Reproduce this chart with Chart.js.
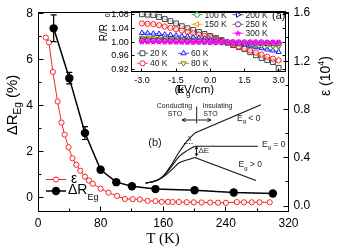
<!DOCTYPE html>
<html>
<head>
<meta charset="utf-8">
<script src="https://cdn.jsdelivr.net/npm/chart.js@4/dist/chart.umd.js"></script>
<style>
  html, body { margin: 0; padding: 0; background: #fff; }
  #wrap { position: relative; width: 338px; height: 251px; }
  #main { position: absolute; left: 0; top: 0; }
  #inset { position: absolute; left: 90px; top: 0; }
</style>
</head>
<body>
<div id="wrap">
  <canvas id="main" width="338" height="251"></canvas>
  <canvas id="inset" width="200" height="100"></canvas>
</div>
<script>
// main panel: resistance change (left axis) and permittivity (right axis) vs T
const tempsR = [20, 40, 60, 80, 100, 120, 150, 200, 250, 300];
const deltaR = [7.35, 5.19, 2.81, 1.22, 0.68, 0.50, 0.38, 0.33, 0.23, 0.19];
const deltaRErr = [0.58, 0.25, 0.28, 0.1, 0.08, 0.08, 0.1, 0.08, 0.06, 0.06];

const tempsEps = [10, 14, 19, 25, 30, 34, 39, 44, 49, 54, 60, 65, 70, 80, 90, 101, 111, 121, 130, 140,
  150, 158, 166, 172, 180, 190, 199, 209, 220, 230, 240, 254, 263, 273, 283, 296];
const eps = [1.397, 1.356, 1.112, 0.867, 0.692, 0.592, 0.488, 0.396, 0.342, 0.293, 0.244, 0.212, 0.185, 0.144,
  0.111, 0.084, 0.059, 0.057, 0.055, 0.043, 0.041, 0.035, 0.035, 0.033, 0.033, 0.032, 0.031, 0.030, 0.029,
  0.028, 0.027, 0.033, 0.031, 0.031, 0.031, 0.031];

const xTicks = [0, 80, 160, 240, 320];
const yTicks = [0, 2, 4, 6, 8];
const y1Ticks = [0, 0.4, 0.8, 1.2, 1.6];

// schematic (b), drawn in the main panel's own units
const curveNegT = [137.6, 145.3, 153.0, 160.6, 168.3, 181.1, 191.4, 200.3, 284.8];
const curveNegV = [0.64, 0.69, 0.77, 0.97, 1.32, 2.03, 2.50, 2.81, 4.04];
const curveZeroT = [137.6, 145.3, 153.0, 160.6, 168.3, 181.1, 191.4, 200.3, 281.0];
const curveZeroV = [0.64, 0.69, 0.77, 0.95, 1.26, 1.82, 2.07, 2.24, 2.24];
const curvePosT = [137.6, 145.3, 153.0, 160.6, 168.3, 181.1, 191.4, 200.3, 278.4];
const curvePosV = [0.64, 0.69, 0.77, 0.92, 1.14, 1.53, 1.65, 1.75, 0.75];

// inset (a): R/R0 vs field
const fieldE = [-3, -2.75, -2.5, -2.25, -2, -1.75, -1.5, -1.25, -1, -0.75, -0.5, -0.25, 0,
  0.25, 0.5, 0.75, 1, 1.25, 1.5, 1.75, 2, 2.25, 2.5, 2.75, 3];
const r20 = [1.082, 1.081, 1.080, 1.074, 1.068, 1.062, 1.055, 1.047, 1.041, 1.036, 1.030, 1.024, 1.018,
  1.012, 1.006, 0.998, 0.991, 0.985, 0.979, 0.970, 0.961, 0.953, 0.947, 0.941, 0.924];
const r40 = [1.055, 1.054, 1.053, 1.050, 1.046, 1.042, 1.038, 1.034, 1.030, 1.026, 1.022, 1.018, 1.014,
  1.009, 1.004, 0.999, 0.993, 0.987, 0.981, 0.975, 0.969, 0.963, 0.957, 0.951, 0.946];
const r60 = [1.027, 1.026, 1.025, 1.024, 1.022, 1.021, 1.019, 1.017, 1.016, 1.014, 1.012, 1.010, 1.008,
  1.006, 1.003, 1.000, 0.998, 0.995, 0.992, 0.989, 0.985, 0.982, 0.978, 0.975, 0.971];
const r80 = [1.012, 1.011, 1.011, 1.010, 1.009, 1.009, 1.008, 1.007, 1.006, 1.005, 1.004, 1.003, 1.002,
  1.001, 1.000, 0.999, 0.998, 0.997, 0.995, 0.994, 0.992, 0.991, 0.989, 0.988, 0.986];
const r100 = [1.010, 1.010, 1.009, 1.009, 1.008, 1.007, 1.007, 1.006, 1.005, 1.004, 1.003, 1.002, 1.001,
  1.000, 0.999, 0.998, 0.997, 0.996, 0.995, 0.994, 0.993, 0.992, 0.991, 0.990, 0.990];
const r150 = [1.008, 1.008, 1.007, 1.007, 1.006, 1.006, 1.005, 1.005, 1.004, 1.003, 1.003, 1.002, 1.001,
  1.001, 1.000, 0.999, 0.999, 0.998, 0.997, 0.997, 0.996, 0.996, 0.995, 0.995, 0.994];
const r200 = [1.006, 1.006, 1.005, 1.005, 1.005, 1.004, 1.004, 1.003, 1.003, 1.002, 1.002, 1.001, 1.001,
  1.000, 1.000, 0.999, 0.999, 0.998, 0.998, 0.997, 0.997, 0.997, 0.996, 0.996, 0.996];
const r250 = [1.003, 1.003, 1.003, 1.003, 1.002, 1.002, 1.002, 1.002, 1.001, 1.001, 1.001, 1.001, 1.000,
  1.000, 1.000, 1.000, 0.999, 0.999, 0.999, 0.999, 0.999, 0.999, 0.998, 0.998, 0.998];
const r300 = [1.001, 1.001, 1.001, 1.001, 1.001, 1.001, 1.000, 1.000, 1.000, 1.000, 1.000, 1.000, 1.000,
  1.000, 1.000, 1.000, 1.000, 0.999, 0.999, 0.999, 0.999, 0.999, 0.999, 0.999, 0.999];
const insetLabels = ["20 K", "40 K", "60 K", "80 K", "100 K", "150 K", "200 K", "250 K", "300 K"];
const insetXTicks = [-3, -1.5, 0, 1.5, 3];
const insetYTicks = [0.92, 0.96, 1.00, 1.04, 1.08];

const SANS = "'Liberation Sans', Arial, sans-serif";
const SERIF = "'Liberation Serif', 'Times New Roman', serif";
const RED = "#f02828";

function pts(xs, ys) {
  return xs.map((x, i) => ({ x: x, y: ys[i] }));
}

// filled star marker for the 300 K series
function makeStar(r, color) {
  const c = document.createElement("canvas");
  c.width = c.height = Math.ceil(r * 2 + 2);
  const g = c.getContext("2d");
  g.beginPath();
  for (let i = 0; i < 10; i++) {
    const a = -Math.PI / 2 + i * Math.PI / 5;
    const rr = i % 2 ? r * 0.45 : r;
    g.lineTo(c.width / 2 + rr * Math.cos(a), c.height / 2 + rr * Math.sin(a));
  }
  g.closePath();
  g.fillStyle = color;
  g.fill();
  return c;
}

// draws text pieces left to right, with optional sub/superscripts
function richText(ctx, parts, x, y, align) {
  let total = 0;
  parts.forEach((p) => { ctx.font = p.font; total += ctx.measureText(p.t).width; });
  let cx = align === "center" ? x - total / 2 : x;
  parts.forEach((p) => {
    ctx.font = p.font;
    ctx.fillText(p.t, cx, y + (p.dy || 0));
    cx += ctx.measureText(p.t).width;
  });
}

function halfPx(v) { return Math.floor(v) + 0.5; }

function drawArrow(ctx, x1, y1, x2, y2, head) {
  const a = Math.atan2(y2 - y1, x2 - x1);
  ctx.beginPath();
  ctx.moveTo(x1, y1);
  ctx.lineTo(x2, y2);
  ctx.stroke();
  ctx.beginPath();
  ctx.moveTo(x2, y2);
  ctx.lineTo(x2 - head * Math.cos(a - 0.45), y2 - head * Math.sin(a - 0.45));
  ctx.moveTo(x2, y2);
  ctx.lineTo(x2 - head * Math.cos(a + 0.45), y2 - head * Math.sin(a + 0.45));
  ctx.stroke();
}

function inwardTicks(ctx, scale, values, side, area, len) {
  values.forEach((v) => {
    const p = halfPx(scale.getPixelForValue(v));
    ctx.beginPath();
    if (side === "bottom") { ctx.moveTo(p, area.bottom); ctx.lineTo(p, area.bottom - len); }
    if (side === "left") { ctx.moveTo(area.left, p); ctx.lineTo(area.left + len, p); }
    if (side === "right") { ctx.moveTo(area.right, p); ctx.lineTo(area.right - len, p); }
    ctx.stroke();
  });
}

function mids(arr) {
  const out = [];
  for (let i = 0; i < arr.length - 1; i++) out.push((arr[i] + arr[i + 1]) / 2);
  return out;
}

const mainExtras = {
  id: "mainExtras",
  afterDatasetsDraw(chart) {
    const { ctx, chartArea: a, scales } = chart;
    const x = scales.x, y = scales.y, y1 = scales.y1;
    ctx.save();
    // error bars on the resistance points
    ctx.strokeStyle = "#000";
    ctx.lineWidth = 1.2;
    tempsR.forEach((t, i) => {
      const px = x.getPixelForValue(t);
      const top = y.getPixelForValue(deltaR[i] + deltaRErr[i]);
      const bot = y.getPixelForValue(deltaR[i] - deltaRErr[i]);
      ctx.beginPath();
      ctx.moveTo(px, top); ctx.lineTo(px, bot);
      ctx.moveTo(px - 3, top); ctx.lineTo(px + 3, top);
      ctx.moveTo(px - 3, bot); ctx.lineTo(px + 3, bot);
      ctx.stroke();
    });

    // frame and inward ticks
    ctx.lineWidth = 1;
    const L = halfPx(a.left), R = halfPx(a.right), T = halfPx(a.top), B = halfPx(a.bottom);
    ctx.strokeRect(L, T, R - L, B - T);
    const box = { left: L, right: R, top: T, bottom: B };
    inwardTicks(ctx, x, xTicks, "bottom", box, 5);
    inwardTicks(ctx, x, mids(xTicks), "bottom", box, 3);
    inwardTicks(ctx, y, yTicks, "left", box, 5);
    inwardTicks(ctx, y, mids(yTicks), "left", box, 3);
    inwardTicks(ctx, y1, y1Ticks, "right", box, 5);
    inwardTicks(ctx, y1, mids(y1Ticks), "right", box, 3);

    // schematic (b) decorations
    ctx.lineWidth = 0.9;
    ctx.beginPath();
    ctx.moveTo(196.7, 106.5); ctx.lineTo(196.7, 123.5);
    ctx.stroke();
    drawArrow(ctx, 196, 120, 182, 120, 4);
    drawArrow(ctx, 197.5, 120, 211, 120, 4);
    drawArrow(ctx, 196.5, 152, 196.5, 146.5, 3);
    drawArrow(ctx, 196.5, 151, 196.5, 156, 3);
    ctx.setLineDash([1, 1.5]);
    ctx.beginPath();
    ctx.moveTo(184, 143.5); ctx.lineTo(194, 143.5);
    ctx.stroke();
    ctx.setLineDash([]);

    ctx.fillStyle = "#222";
    ctx.textBaseline = "middle";
    ctx.textAlign = "center";
    ctx.font = "7px " + SANS;
    ctx.fillText("Conducting", 174.5, 106);
    ctx.fillText("STO", 175, 114);
    ctx.fillText("Insulating", 217.5, 106);
    ctx.fillText("STO", 210.5, 114);
    ctx.fillText("λ", 189.5, 139);
    ctx.font = "11px " + SANS;
    ctx.fillText("(b)", 155, 142.7);
    ctx.textAlign = "left";
    ctx.font = "8px " + SANS;
    ctx.fillText("ΔE", 198.5, 150.7);
    const f8 = "8.5px " + SANS, f6 = "6px " + SANS;
    richText(ctx, [{ t: "E", font: f8 }, { t: "g", font: f6, dy: 3 }, { t: " < 0", font: f8 }], 237, 118.3, "left");
    richText(ctx, [{ t: "E", font: f8 }, { t: "g", font: f6, dy: 3 }, { t: " = 0", font: f8 }], 262, 144.5, "left");
    richText(ctx, [{ t: "E", font: f8 }, { t: "g", font: f6, dy: 3 }, { t: " > 0", font: f8 }], 238.5, 165, "left");
    ctx.restore();
  },
  afterDraw(chart) {
    const { ctx } = chart;
    ctx.save();
    ctx.fillStyle = "#000";
    ctx.textBaseline = "alphabetic";

    // left axis title, rotated
    ctx.save();
    ctx.translate(17, 105);
    ctx.rotate(-Math.PI / 2);
    const f15 = "15px " + SANS, f10 = "10px " + SANS;
    richText(ctx, [{ t: "ΔR", font: f15 }, { t: "Eg", font: f10, dy: 4 }, { t: " (%)", font: f15 }], 0, 0, "center");
    ctx.restore();

    // right axis title, rotated
    ctx.save();
    ctx.translate(330, 76);
    ctx.rotate(-Math.PI / 2);
    const f14 = "14px " + SANS, f9 = "9px " + SANS;
    richText(ctx, [{ t: "ε (10", font: f14 }, { t: "4", font: f9, dy: -6 }, { t: ")", font: f14 }], 0, 0, "center");
    ctx.restore();

    // x axis title
    ctx.textAlign = "center";
    ctx.textBaseline = "middle";
    ctx.font = "15px " + SERIF;
    ctx.fillText("T (K)", 163, 239);

    // legend
    ctx.lineWidth = 1;
    ctx.strokeStyle = RED;
    ctx.beginPath(); ctx.moveTo(46, 179.5); ctx.lineTo(66, 179.5); ctx.stroke();
    ctx.fillStyle = "#fff";
    ctx.beginPath(); ctx.arc(56, 179.5, 2.6, 0, Math.PI * 2); ctx.fill(); ctx.stroke();
    ctx.strokeStyle = "#000";
    ctx.lineWidth = 1.5;
    ctx.beginPath(); ctx.moveTo(46, 191); ctx.lineTo(66, 191); ctx.stroke();
    ctx.fillStyle = "#000";
    ctx.beginPath(); ctx.arc(56, 191, 4.2, 0, Math.PI * 2); ctx.fill();
    ctx.textAlign = "left";
    ctx.textBaseline = "middle";
    ctx.font = "14px " + SANS;
    ctx.fillText("ε", 71, 179);
    richText(ctx, [{ t: "ΔR", font: "14px " + SANS }, { t: "Eg", font: "9px " + SANS, dy: 7 }], 68, 190.5, "left");
    ctx.restore();
  }
};

function fixedTicks(list) {
  return (scale) => { scale.ticks = list.map((v) => ({ value: v })); };
}

const schemStyle = { yAxisID: "y", borderColor: "#111", borderWidth: 1.1, pointRadius: 0, fill: false };
const schemSets = [];
[[curveNegT, curveNegV], [curveZeroT, curveZeroV], [curvePosT, curvePosV]].forEach(([ts, vs]) => {
  const all = pts(ts, vs);
  schemSets.push(Object.assign({ data: all.slice(0, 8), cubicInterpolationMode: "monotone" }, schemStyle));
  schemSets.push(Object.assign({ data: all.slice(7) }, schemStyle));
});

new Chart(document.getElementById("main"), {
  type: "line",
  data: {
    datasets: [
      {
        label: "ΔR",
        data: pts(tempsR, deltaR),
        yAxisID: "y",
        borderColor: "#000",
        backgroundColor: "#000",
        borderWidth: 1.5,
        pointRadius: 4.2,
        pointBorderWidth: 0,
      },
      {
        label: "ε",
        data: pts(tempsEps, eps),
        yAxisID: "y1",
        borderColor: RED,
        backgroundColor: "rgba(255,255,255,0.9)",
        borderWidth: 1,
        pointRadius: 2.6,
        pointBorderWidth: 1,
      },
      ...schemSets,
    ],
  },
  options: {
    responsive: false,
    animation: false,
    events: [],
    layout: { padding: { top: 8.5, left: 0, right: 0, bottom: 0 } },
    plugins: { legend: { display: false }, tooltip: { enabled: false } },
    scales: {
      x: {
        type: "linear",
        min: 0,
        max: 320,
        afterBuildTicks: fixedTicks(xTicks),
        afterFit: (s) => { s.height = 40; },
        grid: { display: false, drawTicks: false },
        border: { display: false },
        ticks: { color: "#000", font: { family: SANS, size: 12 }, padding: 5, maxRotation: 0, autoSkip: false },
      },
      y: {
        position: "left",
        min: -0.57,
        max: 8.05,
        afterBuildTicks: fixedTicks(yTicks),
        afterFit: (s) => { s.width = 38; },
        grid: { display: false, drawTicks: false },
        border: { display: false },
        ticks: { color: "#000", font: { family: SANS, size: 12 }, padding: 5 },
      },
      y1: {
        position: "right",
        min: -0.041,
        max: 1.607,
        afterBuildTicks: fixedTicks(y1Ticks),
        afterFit: (s) => { s.width = 49.5; },
        grid: { display: false, drawTicks: false },
        border: { display: false },
        ticks: { color: "#000", font: { family: SANS, size: 12 }, padding: 5, callback: (v) => v.toFixed(1) },
      },
    },
  },
  plugins: [mainExtras],
});

// ---------- inset (a) ----------
const insetValues = [r20, r40, r60, r80, r100, r150, r200, r250, r300];
const insetStyle = [
  { color: "#444444", style: "rect", rot: 0, r: 3.4 },
  { color: "#ff2020", style: "circle", rot: 0, r: 2.6 },
  { color: "#1a1aff", style: "triangle", rot: 0, r: 3 },
  { color: "#808000", style: "triangle", rot: 180, r: 3 },
  { color: "#1a9a1a", style: "rectRot", rot: 0, r: 3 },
  { color: "#ff8c00", style: "triangle", rot: -90, r: 3 },
  { color: "#1a1a90", style: "triangle", rot: 90, r: 3 },
  { color: "#9a1a9a", style: "circle", rot: 0, r: 2.6 },
  { color: "#ff00ff", style: makeStar(3.6, "#ff00ff"), rot: 0, r: 3.6 },
];
// legend slots: [marker x, row y] in inset canvas pixels
const insetLegendPos = [[52.5, 53.3], [52.5, 63.3], [93.5, 53.3], [93.5, 63.3], [107, 14.7], [107, 24.3],
  [148, 14.7], [148, 24.3], [148, 33.3]];

const insetExtras = {
  id: "insetExtras",
  afterDraw(chart) {
    const { ctx, chartArea: a, scales } = chart;
    ctx.save();
    ctx.strokeStyle = "#000";
    ctx.lineWidth = 1;
    const L = halfPx(a.left), R = halfPx(a.right), T = halfPx(a.top), B = halfPx(a.bottom);
    ctx.strokeRect(L, T, R - L, B - T);
    const box = { left: L, right: R, top: T, bottom: B };
    inwardTicks(ctx, scales.x, insetXTicks, "bottom", box, 3);
    inwardTicks(ctx, scales.y, insetYTicks, "left", box, 3);
    inwardTicks(ctx, scales.y, insetYTicks, "right", box, 3);

    // legend entries
    ctx.textBaseline = "middle";
    ctx.textAlign = "left";
    insetStyle.forEach((s, i) => {
      const [mx, my] = insetLegendPos[i];
      ctx.strokeStyle = s.color;
      ctx.lineWidth = 0.8;
      ctx.beginPath(); ctx.moveTo(mx - 5.5, my); ctx.lineTo(mx + 5.5, my); ctx.stroke();
      ctx.fillStyle = i === 8 ? s.color : "#fff";
      ctx.lineWidth = 1;
      Chart.helpers.drawPoint(ctx, { pointStyle: s.style, rotation: s.rot, radius: s.r, borderWidth: 1 }, mx, my);
      ctx.fillStyle = "#222";
      ctx.font = "8.5px " + SANS;
      ctx.fillText(insetLabels[i], mx + 7.5, my + 0.5);
    });
    ctx.fillStyle = "#000";
    ctx.font = "11px " + SANS;
    ctx.textAlign = "center";
    ctx.fillText("(a)", 188.7, 15.7);

    // axis titles
    ctx.textBaseline = "alphabetic";
    richText(ctx, [{ t: "E", font: "11.5px " + SANS }, { t: "g", font: "8px " + SANS, dy: 3 }, { t: " (kV/cm)", font: "11.5px " + SANS }], 118, 93, "center");
    ctx.save();
    ctx.translate(17, 22);
    ctx.rotate(-Math.PI / 2);
    richText(ctx, [{ t: "R/R", font: "10px " + SANS }, { t: "0", font: "7px " + SANS, dy: 3 }], 0, 0, "center");
    ctx.restore();
    ctx.restore();
  }
};

new Chart(document.getElementById("inset"), {
  type: "line",
  data: {
    datasets: insetValues.map((vals, i) => ({
      label: insetLabels[i],
      data: pts(fieldE, vals),
      order: 20 - i,
      borderColor: insetStyle[i].color,
      backgroundColor: i === 8 ? insetStyle[i].color : "rgba(255,255,255,0.6)",
      borderWidth: 0.8,
      pointStyle: insetStyle[i].style,
      rotation: insetStyle[i].rot,
      pointRadius: insetStyle[i].r,
      pointBorderWidth: 1,
    })),
  },
  options: {
    responsive: false,
    animation: false,
    events: [],
    layout: { padding: { top: 11, right: 4, left: 0, bottom: 0 } },
    plugins: { legend: { display: false }, tooltip: { enabled: false } },
    scales: {
      x: {
        type: "linear",
        min: -3.45,
        max: 3.28,
        afterBuildTicks: fixedTicks(insetXTicks),
        afterFit: (s) => { s.height = 29; },
        grid: { display: false, drawTicks: false },
        border: { display: false },
        ticks: { color: "#000", font: { family: SANS, size: 9 }, padding: 4, maxRotation: 0, autoSkip: false,
          callback: (v) => v.toFixed(1) },
      },
      y: {
        min: 0.9146,
        max: 1.0918,
        afterBuildTicks: fixedTicks(insetYTicks),
        afterFit: (s) => { s.width = 41.7; },
        grid: { display: false, drawTicks: false },
        border: { display: false },
        ticks: { color: "#000", font: { family: SANS, size: 9 }, padding: 3, callback: (v) => v.toFixed(2) },
      },
    },
  },
  plugins: [insetExtras],
});
</script>
</body>
</html>
